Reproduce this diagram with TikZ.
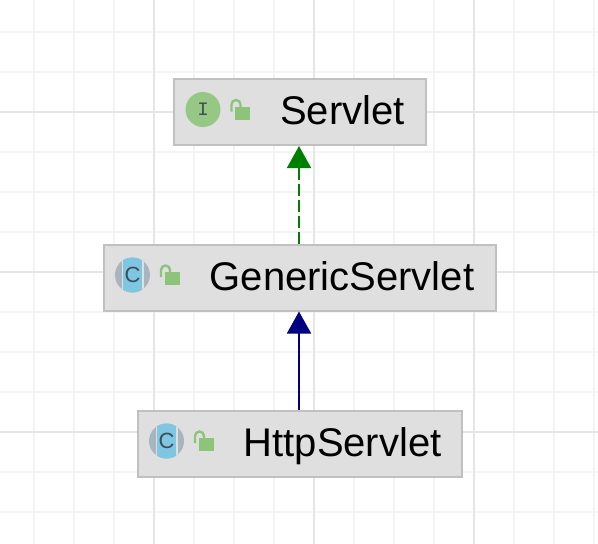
\documentclass[tikz,border=0pt]{standalone}
\usepackage{xcolor}
\usepackage{fontspec}
\setmainfont{Liberation Sans}
\newfontfamily\iconmono{Liberation Mono}
\usetikzlibrary{arrows.meta}
\definecolor{gridmajor}{HTML}{E6E6E6}
\definecolor{gridminor}{HTML}{F4F4F4}
\definecolor{boxfill}{HTML}{DFDFDF}
\definecolor{boxrule}{HTML}{C0C0C0}
\definecolor{ifacegreen}{HTML}{97C784}
\definecolor{lockgreen}{HTML}{8DC47A}
\definecolor{classblue}{HTML}{7FC6E2}
\definecolor{classgrey}{HTML}{A9B5BE}
\definecolor{letterdark}{HTML}{3E4D58}
\definecolor{implgreen}{HTML}{008000}
\definecolor{extblue}{HTML}{000080}

\begin{document}
\begin{tikzpicture}[
  x=1pt,y=-1pt,
  b/.style={draw=boxrule,fill=boxfill,line width=2pt,inner sep=0pt,minimum height=66pt},
  n/.style={font=\fontsize{40}{40}\selectfont,inner sep=0pt,text=black},
  impl/.style={-{Triangle[length=22pt,width=24pt]},draw=implgreen,line width=1.8pt,dash pattern=on 11.5pt off 4.5pt},
  ext/.style={-{Triangle[length=22pt,width=24pt]},draw=extblue,line width=1.8pt},
  lock/.pic={
    \fill[lockgreen] (32,-3) rectangle (47,10);
    \draw[lockgreen,line width=2.4pt] (28.5,2) -- (28.5,-5) arc[start angle=180,end angle=0,x radius=4.5,y radius=-4.5] -- (37.5,-2.5);},
  iface/.pic={
    \fill[ifacegreen] (0,0) circle[radius=17.5];
    \node[font=\iconmono\fontsize{19}{19}\selectfont,text=letterdark,inner sep=0pt] (-l) at (0,0) {I};
    \pic {lock};},
  cls/.pic={
    \fill[classgrey] (0,0) circle[radius=17.5];
    \begin{scope}
      \clip (0,0) circle[radius=17.5];
      \fill[boxfill] (-11,-18) rectangle (-9.5,18);
      \fill[boxfill] (9.5,-18) rectangle (11,18);
      \fill[classblue] (-9.5,-18) rectangle (9.5,18);
    \end{scope}
    \node[font=\fontsize{22}{22}\selectfont,text=letterdark,inner sep=0pt] (-l) at (0,0) {C};
    \pic {lock};}]
\useasboundingbox (0,0) rectangle (598,544);
% grid
\foreach \gx in {34,74,...,594} \draw[gridminor,line width=1.5pt] (\gx,0) -- (\gx,544);
\foreach \gy in {32,72,...,512} \draw[gridminor,line width=1.5pt] (0,\gy) -- (598,\gy);
\foreach \gx in {154,314,474} \draw[gridmajor,line width=1.5pt] (\gx,0) -- (\gx,544);
\foreach \gy in {112,272,432} \draw[gridmajor,line width=1.5pt] (0,\gy) -- (598,\gy);
% boxes
\node[b,minimum width=252pt] (srv) at (300,112) {};
\node[b,minimum width=392pt] (gen) at (300,277.5) {};
\node[b,minimum width=324pt] (htp) at (300,443.5) {};
\pic (srvicon) at (203,109.5) {iface};
\pic (genicon) at (132.5,275) {cls};
\pic (htpicon) at (166.5,441) {cls};
\node[n,anchor=base west] (srvname) at (280,124) {Servlet};
\node[n,anchor=base west] (genname) at (209.5,290) {GenericServlet};
\node[n,anchor=base west] (htpname) at (243.5,456) {HttpServlet};
% arrows
\draw[impl] ([xshift=-1pt]gen.north) -- ([xshift=-1pt]srv.south);
\draw[ext] ([xshift=-1pt]htp.north) -- ([xshift=-1pt]gen.south);
\end{tikzpicture}
\end{document}
